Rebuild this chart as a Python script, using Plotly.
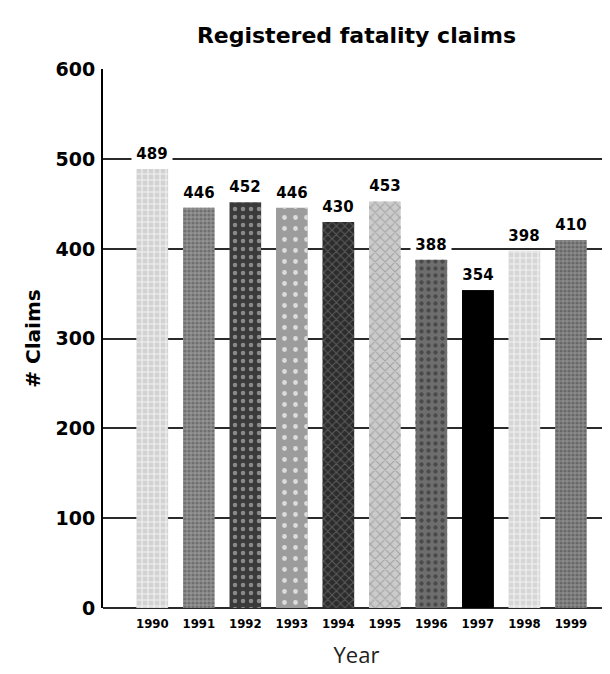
import plotly.graph_objects as go

# ---- data ----
years = [1990, 1991, 1992, 1993, 1994, 1995, 1996, 1997, 1998, 1999]
claims = [489, 446, 452, 446, 430, 453, 388, 354, 398, 410]
year_labels = ["1990", "1991", "1992", "1993", "1994", "1995", "1996", "1997", "1998", "1999"]
y_ticks = [0, 100, 200, 300, 400, 500, 600]

# ---- styles (one per bar) ----
base_col = ["#d2d2d2", "#939393", "#3a3a3a", "#9c9c9c", "#2c2c2c", "#cbcbcb", "#6e6e6e", "#000000", "#d6d6d6", "#8a8a8a"]
pat_col = ["#f2f2f2", "#707070", "#8a8a8a", "#dcdcdc", "#5c5c5c", "#a4a4a4", "#4a4a4a", "#000000", "#f2f2f2", "#686868"]
pat_shape = ["+", ".", ".", ".", "x", "x", ".", "", "+", "."]
pat_size = [6, 4, 8, 11, 6, 7, 7, 6, 6, 4]
pat_solid = [0.35, 0.5, 0.25, 0.15, 0.3, 0.3, 0.3, 0.3, 0.35, 0.5]

fig = go.Figure()
# solid base of each bar
fig.add_trace(go.Bar(
    x=years, y=claims, width=0.68,
    marker=dict(color=base_col, line=dict(width=0)),
    hoverinfo="x+y", showlegend=False,
))
# texture on top
fig.add_trace(go.Bar(
    x=years, y=claims, width=0.68,
    marker=dict(
        color=pat_col, line=dict(width=0),
        pattern=dict(shape=pat_shape, size=pat_size, solidity=pat_solid,
                     fillmode="replace"),
    ),
    hoverinfo="skip", showlegend=False,
))

for yr, v in zip(years, claims):
    fig.add_annotation(
        x=yr, y=v, xref="x", yref="y",
        text=str(v), showarrow=False,
        yanchor="bottom", yshift=4,
        bgcolor="white", borderpad=1, width=38,
        font=dict(family="DejaVu Sans", size=15, color="black", weight="bold"),
    )

W, H = 602, 666
fig.update_layout(
    width=W, height=H,
    margin=dict(l=95, r=0, t=61, b=66),
    paper_bgcolor="white",
    plot_bgcolor="white",
    barmode="overlay",
    title=dict(
        text="Registered fatality claims",
        x=0.5, xref="paper", xanchor="center",
        y=1 - 27 / H, yref="container", yanchor="middle",
        font=dict(family="DejaVu Sans", size=22, color="black", weight="bold"),
    ),
)

fig.update_xaxes(
    range=[1988.94, 1999.84],
    tickmode="array", tickvals=years, ticktext=year_labels,
    showgrid=False, zeroline=False, showline=False,
    ticks="", ticklabelstandoff=6,
    tickfont=dict(family="DejaVu Sans Condensed, DejaVu Sans", size=13, color="black", weight="bold"),
    title=dict(text="Year", standoff=17,
               font=dict(family="Open Sans", size=22, color="#222222")),
)

fig.update_yaxes(
    range=[0, 600.5],
    tickmode="array", tickvals=y_ticks,
    showgrid=True, gridcolor="#2a2a2a", gridwidth=2,
    zeroline=True, zerolinecolor="#2a2a2a", zerolinewidth=2,
    showline=True, linecolor="black", linewidth=2,
    ticks="", ticklabelstandoff=2,
    tickfont=dict(family="DejaVu Sans", size=19, color="black", weight="bold"),
    title=dict(text="# Claims", standoff=10,
               font=dict(family="DejaVu Sans", size=20, color="black", weight="bold")),
)

fig.write_html("out.html")
